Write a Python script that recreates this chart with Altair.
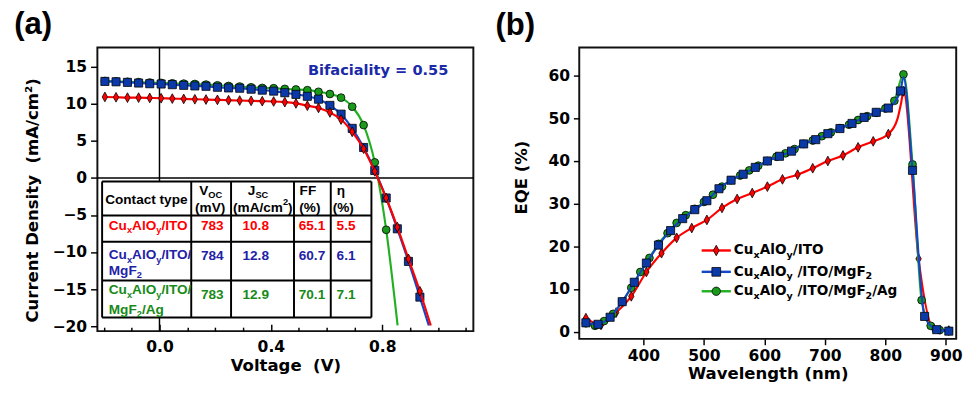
import altair as alt
import pandas as pd

# ---------------- Panel (a): J-V curves ----------------
SERIES = ["CuxAlOy/ITO", "CuxAlOy/ITO/MgF2", "CuxAlOy/ITO/MgF2/Ag"]
V_PTS = [-0.196, -0.156, -0.115, -0.075, -0.035, 0.006, 0.046, 0.087, 0.127, 0.167,
         0.208, 0.248, 0.288, 0.329, 0.369, 0.410, 0.450, 0.490, 0.531, 0.571,
         0.612, 0.652, 0.692, 0.733, 0.773, 0.814, 0.854, 0.894, 0.935]
J_ITO = [10.95, 10.91, 10.86, 10.86, 10.82, 10.78, 10.73, 10.69, 10.64, 10.60,
         10.56, 10.51, 10.47, 10.43, 10.38, 10.34, 10.25, 10.08, 9.77, 9.47,
         8.86, 7.90, 6.24, 3.96, 0.90, -2.69, -6.62, -10.91, -15.28]
J_MGF2 = [13.05, 13.00, 12.92, 12.83, 12.74, 12.70, 12.61, 12.52, 12.44, 12.39,
          12.26, 12.17, 12.13, 12.00, 11.87, 11.74, 11.52, 11.30, 11.04, 10.65,
          9.81, 8.63, 6.71, 4.13, 1.03, -2.69, -6.85, -11.25, -16.07]
J_AG = [13.10, 13.05, 13.00, 12.95, 12.90, 12.85, 12.80, 12.75, 12.70, 12.62,
        12.52, 12.44, 12.36, 12.26, 12.17, 12.13, 12.04, 11.96, 11.87, 11.65,
        11.35, 10.86, 9.64, 7.15, 2.12, -6.98]
V_END = [0.974, 0.967, 0.855]
J_END = [-19.9, -19.9, -19.9]

TABLE_VOC = ["783", "784", "783"]
TABLE_JSC = ["10.8", "12.8", "12.9"]
TABLE_FF = ["65.1", "60.7", "70.1"]
TABLE_ETA = ["5.5", "6.1", "7.1"]
BIFACIALITY = "Bifaciality = 0.55"

# ---------------- Panel (b): EQE ----------------
WL_ITO = [305, 330, 355, 380, 405, 430, 455, 480, 505, 530, 555, 580, 605, 630,
          655, 680, 705, 730, 755, 780, 805, 830, 855, 880, 905]
EQE_ITO = [3.2, 1.6, 4.5, 8.3, 14.0, 18.4, 22.0, 24.3, 26.2, 29.0, 31.1, 32.5,
           34.0, 35.7, 36.8, 38.3, 40.0, 41.3, 43.2, 44.6, 46.3, 56.3, 17.1, 0.8, 0.3]
WL_ITO_X = [820, 826]
EQE_ITO_X = [49.8, 53.5]
WL_MGF2 = [305, 325, 345, 365, 385, 405, 425, 445, 465, 485, 505, 525, 545, 565,
           585, 605, 625, 645, 665, 685, 705, 725, 745, 765, 785, 805, 825, 845,
           865, 885, 905]
EQE_MGF2 = [2.1, 1.75, 3.4, 7.05, 11.6, 16.1, 20.3, 23.7, 26.5, 28.6, 30.7, 33.5,
            35.5, 36.9, 38.5, 40.0, 41.1, 42.3, 44.0, 45.0, 46.4, 47.6, 48.8, 50.2,
            51.4, 52.4, 56.4, 37.8, 3.6, 0.5, 0.15]
WL_MGF2_X = [830]
EQE_MGF2_X = [59.6]
WL_AG = [305, 320, 335, 350, 365, 380, 395, 410, 425, 440, 455, 470, 485, 500,
         515, 530, 545, 560, 575, 590, 605, 620, 635, 650, 665, 680, 695, 710,
         725, 740, 755, 770, 785, 800, 815, 830, 845, 860, 875, 890, 905]
EQE_AG = [2.0, 1.4, 2.5, 4.2, 7.0, 10.3, 14.0, 17.3, 20.6, 23.1, 25.5, 27.3, 28.8,
          30.4, 32.1, 34.0, 35.5, 36.6, 37.8, 38.9, 40.0, 41.0, 41.8, 42.8, 44.0,
          44.8, 45.8, 46.7, 47.7, 48.5, 49.6, 50.5, 51.3, 52.3, 54.1, 60.3, 39.2,
          7.4, 1.4, 0.4, 0.2]

# ---------------- styling ----------------
LINE_C = ["#ff0000", "#1446c8", "#22b022"]
FILL_C = ["#ff0000", "#0b3aa8", "#1a9a1a"]
TEXT_C = ["#ff0000", "#1f22a6", "#188a18"]
DIAMOND = "M0,-1L0.55,0L0,1L-0.55,0Z"
SHAPES = [DIAMOND, "square", "circle"]
SIZES = [100, 70, 64]

AW, AH = 387, 292
BW, BH = 388, 300
XA_DOM = [-0.223, 1.127]
YA_DOM = [-20.66, 17.64]
XA = alt.Scale(domain=XA_DOM, nice=False, zero=False)
YA = alt.Scale(domain=YA_DOM, nice=False, zero=False)
XB = alt.Scale(domain=[294, 917.2], nice=False, zero=False)
YB = alt.Scale(domain=[-1.66, 66.6], nice=False, zero=False)

DV = {' ': 348, '\u00a0': 348, '(': 457, ')': 457, '/': 365, '.': 380, '%': 1002, '=': 838,
      'A': 774, 'C': 734, 'F': 683, 'I': 372, 'M': 974, 'O': 850, 'T': 682, 'V': 774,
      'a': 675, 'c': 593, 'e': 678, 'g': 716, 'l': 343, 'm': 1042, 'n': 712, 'o': 687,
      't': 478, 'u': 712, 'x': 663, 'y': 652, 'i': 343, '2': 696}
LS = {' ': 278, '\u00a0': 278, '(': 333, ')': 333, '/': 278, '.': 278, '%': 889,
      'A': 722, 'C': 722, 'F': 611, 'I': 278, 'J': 556, 'M': 833, 'O': 778, 'S': 667,
      'T': 611, 'V': 667, 'a': 556, 'c': 556, 'e': 556, 'g': 611, 'l': 278, 'm': 889,
      'n': 611, 'o': 611, 'p': 611, 't': 333, 'u': 611, 'x': 556, 'y': 556, 'η': 611,
      '2': 556}


def rich(segs, x, y, size, color, font, metrics, xs, ys, align="left", sub=0.68):
    """Text with sub/superscripts: one text mark per run, offset by measured widths."""
    widths = []
    for t, k in segs:
        fs = size if k == "n" else size * sub
        widths.append(sum(metrics.get(c, 600) for c in t) / 1000 * fs)
    off = 0 if align == "left" else -sum(widths) / 2
    df = pd.DataFrame({"x": [x], "y": [y]})
    out = []
    for (t, k), w in zip(segs, widths):
        fs = size if k == "n" else size * sub
        dy = 0 if k == "n" else (0.32 * size if k == "sub" else -0.42 * size)
        body = t.lstrip(" \u00a0")
        lead = sum(metrics.get(c, 600) for c in t[:len(t) - len(body)]) / 1000 * fs
        out.append(alt.Chart(df).mark_text(
            text=body, align="left", baseline="middle", dx=off + lead, dy=dy, fontSize=fs,
            font=font, fontWeight="bold", color=color).encode(
            x=alt.X("x:Q", scale=xs, axis=None), y=alt.Y("y:Q", scale=ys, axis=None)))
        off += w
    return out


# ================= Panel (a) =================
jv = [J_ITO, J_MGF2, J_AG]
a_layers = []
axis_xa = alt.Axis(values=[0, 0.4, 0.8], format=".1f", ticks=False, domain=False,
                   labelPadding=8, title="Voltage\u00a0\u00a0(V)", titlePadding=4)
axis_ya = alt.Axis(values=list(range(-20, 16, 5)), tickSize=7, tickWidth=1.5,
                   tickColor="black", domain=False, labelPadding=4, titlePadding=11,
                   title="Current Density\u00a0\u00a0(mA/cm²)", titleY=157)

# zero lines (full span)
a_layers.append(alt.Chart(pd.DataFrame({"v": [0.0], "j1": [YA_DOM[0]], "j2": [YA_DOM[1]]}))
                .mark_rule(color="black", strokeWidth=1.5)
                .encode(x=alt.X("v:Q", scale=XA, axis=axis_xa),
                        y=alt.Y("j1:Q", scale=YA, axis=axis_ya), y2="j2"))
a_layers.append(alt.Chart(pd.DataFrame({"j": [0.0], "v1": [XA_DOM[0]], "v2": [XA_DOM[1]]}))
                .mark_rule(color="black", strokeWidth=1.5)
                .encode(y=alt.Y("j:Q", scale=YA, axis=None),
                        x=alt.X("v1:Q", scale=XA, axis=None), x2="v2"))

# inward ticks along the bottom
MINOR = [-0.2, -0.1, 0.1, 0.2, 0.3, 0.5, 0.6, 0.7, 0.9, 1.0, 1.1]
MAJOR = [0.0, 0.4, 0.8]
for vals, ts in [(MINOR, 4), (MAJOR, 7)]:
    a_layers.append(alt.Chart(pd.DataFrame({"v": vals, "j": [0.0] * len(vals)})).mark_point(opacity=0).encode(
        x=alt.X("v:Q", scale=XA, axis=alt.Axis(orient="top", offset=-AH, values=vals,
                labels=False, domain=False, ticks=True, tickSize=ts, tickWidth=1.5,
                tickColor="black", title=None)),
        y=alt.Y("j:Q", scale=YA, axis=None)))

for i in [2, 1, 0]:
    n = len(jv[i])
    ldf = pd.DataFrame({"v": V_PTS[:n] + [V_END[i]], "j": jv[i] + [J_END[i]]})
    mdf = pd.DataFrame({"v": V_PTS[:n], "j": jv[i]})
    a_layers.append(alt.Chart(ldf).mark_line(color=LINE_C[i], strokeWidth=2.2, interpolate="monotone")
                    .encode(x=alt.X("v:Q", scale=XA, axis=None), y=alt.Y("j:Q", scale=YA, axis=None)))
    a_layers.append(alt.Chart(mdf).mark_point(shape=SHAPES[i], size=SIZES[i], filled=True,
                    fill=FILL_C[i], stroke="black", strokeWidth=0.8, opacity=1)
                    .encode(x=alt.X("v:Q", scale=XA, axis=None), y=alt.Y("j:Q", scale=YA, axis=None)))

# table
COLS = [-0.206, 0.114, 0.257, 0.483, 0.615, 0.761]
ROWS = [-0.46, -5.05, -8.59, -13.84, -18.82]
a_layers.append(alt.Chart(pd.DataFrame({"x1": [COLS[0]], "x2": [COLS[-1]], "y1": [ROWS[0]], "y2": [ROWS[-1]]}))
                .mark_rect(fill="white").encode(x=alt.X("x1:Q", scale=XA, axis=None), x2="x2",
                                                y=alt.Y("y1:Q", scale=YA, axis=None), y2="y2"))
hdf = pd.DataFrame({"y": ROWS, "x1": COLS[0], "x2": COLS[-1]})
vdf = pd.DataFrame({"x": COLS, "y1": ROWS[0], "y2": ROWS[-1]})
a_layers.append(alt.Chart(hdf).mark_rule(color="black", strokeWidth=2).encode(
    y=alt.Y("y:Q", scale=YA, axis=None), x=alt.X("x1:Q", scale=XA, axis=None), x2="x2"))
a_layers.append(alt.Chart(vdf).mark_rule(color="black", strokeWidth=2).encode(
    x=alt.X("x:Q", scale=XA, axis=None), y=alt.Y("y1:Q", scale=YA, axis=None), y2="y2"))

LSF = "Liberation Sans"
HY1, HY2 = -1.77, -4.0
a_layers += rich([("Contact type", "n")], -0.195, -2.95, 14, "black", LSF, LS, XA, YA)
a_layers += rich([("V", "n"), ("OC", "sub")], 0.184, HY1, 14, "black", LSF, LS, XA, YA, "center")
a_layers += rich([("(mV)", "n")], 0.182, HY2, 14, "black", LSF, LS, XA, YA, "center")
a_layers += rich([("J", "n"), ("SC", "sub")], 0.354, HY1, 14, "black", LSF, LS, XA, YA, "center")
a_layers += rich([("(mA/cm", "n"), ("2", "sup"), (")", "n")], 0.371, HY2, 14, "black", LSF, LS, XA, YA, "center")
a_layers += rich([("FF", "n")], 0.533, HY1, 14, "black", LSF, LS, XA, YA, "center")
a_layers += rich([("(%)", "n")], 0.540, HY2, 14, "black", LSF, LS, XA, YA, "center")
a_layers += rich([("η", "n")], 0.651, HY1, 14, "black", LSF, LS, XA, YA, "center")
a_layers += rich([("(%)", "n")], 0.660, HY2, 14, "black", LSF, LS, XA, YA, "center")

CU = [("Cu", "n"), ("x", "sub"), ("AlO", "n"), ("y", "sub")]
LX = -0.182
a_layers += rich(CU + [("/ITO", "n")], LX, -6.49, 14, TEXT_C[0], LSF, LS, XA, YA)
a_layers += rich(CU + [("/ITO/", "n")], LX, -10.43, 14, TEXT_C[1], LSF, LS, XA, YA)
a_layers += rich([("MgF", "n"), ("2", "sub")], LX, -12.52, 14, TEXT_C[1], LSF, LS, XA, YA)
a_layers += rich(CU + [("/ITO/", "n")], LX, -15.15, 14, TEXT_C[2], LSF, LS, XA, YA)
a_layers += rich([("MgF", "n"), ("2", "sub"), ("/Ag", "n")], LX, -17.77, 14, TEXT_C[2], LSF, LS, XA, YA)

NUM_X = [0.149, 0.298, 0.500, 0.636]
NUM_Y = [-6.49, -10.6, -15.8]
nrows = []
for r in range(3):
    for cx, val in zip(NUM_X, [TABLE_VOC[r], TABLE_JSC[r], TABLE_FF[r], TABLE_ETA[r]]):
        nrows.append({"x": cx, "y": NUM_Y[r], "t": val, "c": TEXT_C[r]})
a_layers.append(alt.Chart(pd.DataFrame(nrows)).mark_text(
    align="left", baseline="middle", font=LSF, fontSize=14, fontWeight="bold").encode(
    x=alt.X("x:Q", scale=XA, axis=None), y=alt.Y("y:Q", scale=YA, axis=None),
    text="t:N", color=alt.Color("c:N", scale=None)))

a_layers.append(alt.Chart(pd.DataFrame({"x": [0.785], "y": [14.62]})).mark_text(
    text=BIFACIALITY, font="DejaVu Sans", fontSize=15, fontWeight="bold", color="#1a2aa8",
    baseline="middle").encode(x=alt.X("x:Q", scale=XA, axis=None), y=alt.Y("y:Q", scale=YA, axis=None)))

panel_a = alt.layer(*a_layers).resolve_axis(x="independent", y="independent").properties(
    width=AW, height=AH,
    title=alt.TitleParams("(a)", anchor="start", frame="bounds", fontSize=32, font="Liberation Sans",
                          fontWeight="bold", dx=-10, offset=6, color="black"))

# ================= Panel (b) =================
axis_xb = alt.Axis(values=list(range(400, 901, 100)), tickSize=6, tickWidth=1.5, tickColor="black",
                   domain=False, labelPadding=3, title="Wavelength (nm)", titlePadding=3)
axis_yb = alt.Axis(values=list(range(0, 61, 10)), tickSize=6, tickWidth=1.5, tickColor="black",
                   domain=False, labelPadding=4, titlePadding=18, title="EQE (%)", titleY=133.5)

eq_m = [(WL_ITO, EQE_ITO), (WL_MGF2, EQE_MGF2), (WL_AG, EQE_AG)]
eq_x = [(WL_ITO_X, EQE_ITO_X), (WL_MGF2_X, EQE_MGF2_X), ([], [])]
b_layers = []
first = True
for i in [0, 2, 1]:
    wl, eq = eq_m[i]
    ldf = pd.DataFrame({"w": wl + eq_x[i][0], "e": eq + eq_x[i][1]}).sort_values("w")
    mdf = pd.DataFrame({"w": wl, "e": eq})
    b_layers.append(alt.Chart(ldf).mark_line(color=LINE_C[i], strokeWidth=2.2, interpolate="monotone")
                    .encode(x=alt.X("w:Q", scale=XB, axis=axis_xb if first else None),
                            y=alt.Y("e:Q", scale=YB, axis=axis_yb if first else None)))
    first = False
    b_layers.append(alt.Chart(mdf).mark_point(shape=SHAPES[i], size=SIZES[i], filled=True,
                    fill=FILL_C[i], stroke="black", strokeWidth=0.8, opacity=1)
                    .encode(x=alt.X("w:Q", scale=XB, axis=None), y=alt.Y("e:Q", scale=YB, axis=None)))

LEG_Y = [19.04, 14.04, 9.49]
for i in range(3):
    b_layers.append(alt.Chart(pd.DataFrame({"x1": [496.4], "x2": [544.6], "y": [LEG_Y[i]]}))
                    .mark_rule(color=LINE_C[i], strokeWidth=2.5)
                    .encode(x=alt.X("x1:Q", scale=XB, axis=None), x2="x2", y=alt.Y("y:Q", scale=YB, axis=None)))
    b_layers.append(alt.Chart(pd.DataFrame({"x": [520.5], "y": [LEG_Y[i]]}))
                    .mark_point(shape=SHAPES[i], size=SIZES[i] * 1.15, filled=True, fill=FILL_C[i],
                                stroke="black", strokeWidth=0.8, opacity=1)
                    .encode(x=alt.X("x:Q", scale=XB, axis=None), y=alt.Y("y:Q", scale=YB, axis=None)))
LEG_SEGS = [
    CU + [("/ITO", "n")],
    CU + [("\u00a0/ITO/MgF", "n"), ("2", "sub")],
    CU + [("\u00a0/ITO/MgF", "n"), ("2", "sub"), ("/Ag", "n")],
]
for i in range(3):
    b_layers += rich(LEG_SEGS[i], 549.4, LEG_Y[i], 14, "black", "DejaVu Sans", DV, XB, YB, sub=0.7)

panel_b = alt.layer(*b_layers).resolve_axis(x="independent", y="independent").properties(
    width=BW, height=BH,
    title=alt.TitleParams("(b)", anchor="start", frame="bounds", fontSize=32, font="Liberation Sans",
                          fontWeight="bold", dx=-18, offset=6, color="black"))

chart = alt.hconcat(panel_a, panel_b, spacing=19).properties(
    padding={"top": -6, "left": 5, "right": 0, "bottom": 0}
).configure(background="white").configure_view(
    stroke="#111111", strokeWidth=2).configure_axis(
    labelFont="DejaVu Sans", labelFontSize=16, labelFontWeight="bold", labelColor="black",
    titleFont="DejaVu Sans", titleFontSize=17, titleFontWeight="bold", titleColor="black", grid=False)

chart.save("out.html", embed_options={"renderer": "svg", "actions": False})
